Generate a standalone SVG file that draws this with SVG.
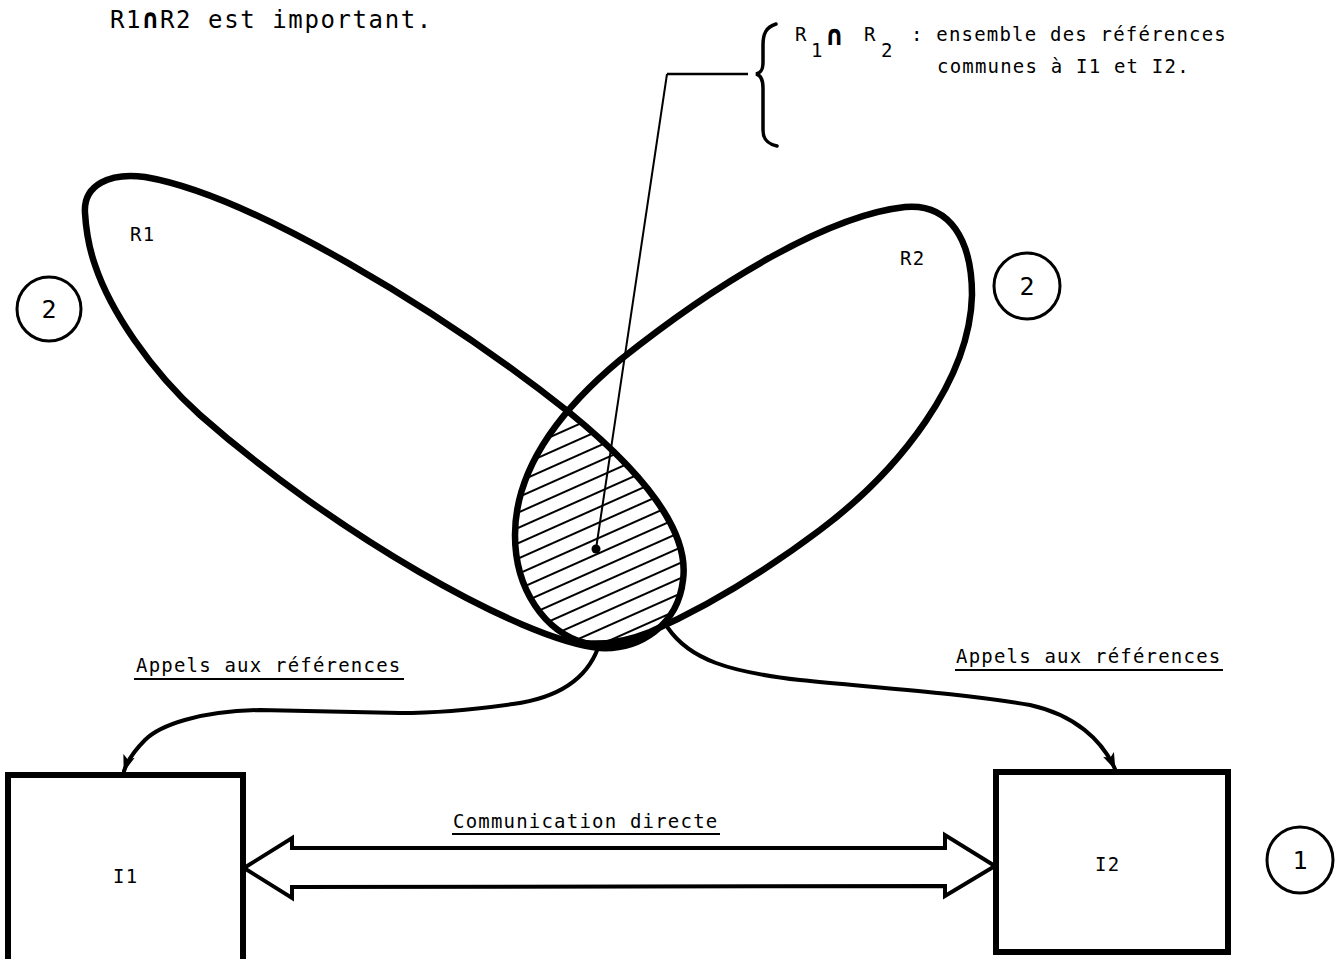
<svg xmlns="http://www.w3.org/2000/svg" width="1341" height="959" viewBox="0 0 1341 959">
<style>
.t{font-family:"DejaVu Sans Mono","Liberation Mono",monospace;fill:#000}
.lab{font-size:19px;letter-spacing:1.2px}
.loop{fill:none;stroke:#000;stroke-width:6.5;stroke-linejoin:round}
.box{fill:#fff;stroke:#000;stroke-width:6}
.circ{fill:none;stroke:#000;stroke-width:3}
.num{font-size:25px;text-anchor:middle}
.conn{fill:none;stroke:#000;stroke-width:4;stroke-linecap:round}
.ul{stroke:#000;stroke-width:2}
</style>
<defs>
<marker id="ah" markerUnits="userSpaceOnUse" markerWidth="20" markerHeight="14" refX="16" refY="7" orient="auto">
<path d="M0,1 L17,7 L0,13 L4,7 Z" fill="#000"/>
</marker>
<pattern id="hatch" patternUnits="userSpaceOnUse" width="14" height="14" patternTransform="rotate(-24)">
<line x1="0" y1="7" x2="14" y2="7" stroke="#000" stroke-width="2"/>
</pattern>
<clipPath id="c1"><path d="M85,213 C83,185 110,172 145,177 C250,195 440,310 570,413 C640,470 690,530 683,580 C678,625 640,650 600,648 C520,640 330,530 200,415 C150,370 110,310 95,265 C88,245 86,230 85,213 Z"/></clipPath>
<clipPath id="c2"><path d="M585,643 C545,632 515,590 515,535 C515,470 560,410 620,360 C720,280 830,215 905,207 C950,203 972,240 972,295 C970,380 900,470 820,530 C760,575 700,610 650,632 C625,642 605,645 585,643 Z"/></clipPath>
</defs>

<text class="t" x="110" y="28" font-size="24" letter-spacing="1.6">R1<tspan font-weight="bold" font-size="27">∩</tspan>R2 est important.</text>

<g id="legend">
<path d="M776,24 C766,27 763,34 763,45 L763,62 C763,70 761,73 756,74 C761,75 763,79 763,88 L763,130 C763,140 768,144 777,146" fill="none" stroke="#000" stroke-width="3.5" stroke-linecap="round"/>
<text class="t lab" x="795" y="41">R</text>
<text class="t lab" x="811" y="57">1</text>
<text class="t" x="826" y="45" font-size="28" font-weight="bold">∩</text>
<text class="t lab" x="864" y="41">R</text>
<text class="t lab" x="881" y="57">2</text>
<text class="t lab" x="911" y="41">: ensemble des références</text>
<text class="t lab" x="937" y="73">communes à I1 et I2.</text>
</g>

<g id="intersection">
<g clip-path="url(#c1)"><rect x="480" y="380" width="240" height="290" fill="url(#hatch)" clip-path="url(#c2)"/></g>
</g>

<g id="R1">
<path class="loop" d="M85,213 C83,185 110,172 145,177 C250,195 440,310 570,413 C640,470 690,530 683,580 C678,625 640,650 600,648 C520,640 330,530 200,415 C150,370 110,310 95,265 C88,245 86,230 85,213 Z"/>
<text class="t lab" x="130" y="241">R1</text>
</g>

<g id="R2">
<path class="loop" d="M585,643 C545,632 515,590 515,535 C515,470 560,410 620,360 C720,280 830,215 905,207 C950,203 972,240 972,295 C970,380 900,470 820,530 C760,575 700,610 650,632 C625,642 605,645 585,643 Z"/>
<text class="t lab" x="900" y="265">R2</text>
</g>

<g id="circle-2-left"><circle class="circ" cx="49" cy="309" r="32"/><text class="t num" x="49" y="318">2</text></g>
<g id="circle-2-right"><circle class="circ" cx="1027" cy="286" r="33"/><text class="t num" x="1027" y="295">2</text></g>
<g id="circle-1"><circle class="circ" cx="1300" cy="860" r="33"/><text class="t num" x="1300" y="869">1</text></g>

<g id="I1">
<rect class="box" x="8" y="775" width="235" height="200"/>
<text class="t lab" x="113" y="883">I1</text>
</g>

<g id="I2">
<rect class="box" x="996" y="772" width="232" height="180"/>
<text class="t lab" x="1095" y="871">I2</text>
</g>

<g id="connectors">
<line x1="667" y1="74" x2="748" y2="74" stroke="#000" stroke-width="2.5"/>
<line x1="667" y1="74" x2="596" y2="549" stroke="#000" stroke-width="2"/>
<circle cx="596" cy="549" r="4.5" fill="#000"/>
<path class="conn" d="M598,648 C588,675 565,697 513,704 C470,710 430,713 400,713 L260,710 C200,711 160,725 145,740 C133,752 127,762 124,771" marker-end="url(#ah)"/>
<path class="conn" d="M668,628 C690,660 730,672 800,680 C880,688 960,693 1030,705 C1075,715 1102,740 1115,769" marker-end="url(#ah)"/>
<path d="M244,868 L292,838 L292,848 L945,848 L945,835 L995,866 L945,896 L945,886 L292,887 L292,898 Z" fill="#fff" stroke="#000" stroke-width="4" stroke-linejoin="miter"/>
<text class="t lab" x="136" y="672">Appels aux références</text>
<line class="ul" x1="134" y1="679" x2="404" y2="679"/>
<text class="t lab" x="956" y="663">Appels aux références</text>
<line class="ul" x1="955" y1="670" x2="1223" y2="670"/>
<text class="t lab" x="453" y="828">Communication directe</text>
<line class="ul" x1="452" y1="834" x2="720" y2="834"/>
</g>
</svg>
